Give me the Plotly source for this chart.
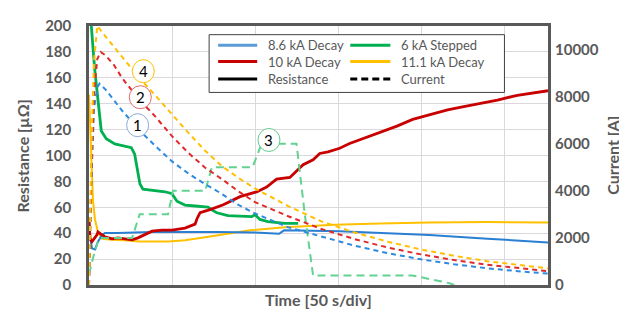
import plotly.graph_objects as go

# ---------------- data (time in s, resistance in µΩ, current in A) ----------------
t_86_cur = [0, 1.5, 3, 5, 6.4, 10, 15, 20, 30, 40, 50, 60, 70, 80, 90, 100, 120, 140, 160, 180, 200, 220, 240, 260, 276.5]
i_86_cur = [0, 4500, 7500, 8400, 8550, 8300, 7850, 7400, 6600, 5900, 5250, 4730, 4280, 3870, 3400, 3040, 2450, 2060, 1670, 1350, 1090, 880, 710, 575, 485]

t_10_cur = [0, 1.5, 3, 5, 7, 10, 15, 20, 30, 40, 50, 60, 70, 80, 90, 100, 120, 140, 160, 180, 200, 220, 240, 260, 276.5]
i_10_cur = [0, 5000, 8200, 9600, 9900, 9750, 9350, 8780, 7900, 7150, 6320, 5600, 4980, 4500, 3980, 3520, 2920, 2380, 1950, 1590, 1300, 1060, 860, 700, 590]

t_111_cur = [0, 1.5, 3, 5, 10, 20, 30, 40, 50, 60, 70, 80, 90, 100, 120, 140, 160, 180, 200, 220, 240, 260, 276.5]
i_111_cur = [0, 6000, 9500, 11000, 10550, 9680, 8820, 8050, 7250, 6450, 5700, 5050, 4550, 4100, 3350, 2700, 2230, 1840, 1510, 1240, 1010, 830, 705]

t_6_cur = [0, 2.4, 5.4, 7, 26, 30.5, 47.6, 50.6, 70, 74, 98.5, 104, 125, 130, 135, 195, 217, 220]
i_6_cur = [450, 1150, 1850, 2000, 2000, 3000, 3000, 4000, 4000, 5000, 5000, 6000, 6000, 3000, 400, 400, 80, 0]

t_86_res = [0, 0.6, 1.8, 3.6, 5.4, 7.8, 9.6, 17, 38, 78, 100, 114.5, 117.5, 151, 170, 205, 240, 265, 276.5]
r_86_res = [42, 36, 28.3, 27.5, 33.5, 38.7, 40.1, 40.1, 40.9, 40.9, 40.5, 39.6, 42.2, 41.6, 40.5, 38.7, 35.7, 33.5, 32.9]

t_10_res = [0, 0.6, 1.8, 4.8, 5.4, 7.8, 9.6, 13.9, 17.5, 21.7, 25.9, 29.5, 33.7, 38, 44, 50, 57.8, 63.9, 65,
            66.9, 72.9, 80.9, 91, 101, 107, 113, 121, 125, 129, 135, 139, 144, 151, 157, 175, 185.5, 195,
            205, 216, 225, 246, 258, 270, 276.5]
r_10_res = [52, 35.7, 33.5, 38.7, 40.9, 38.7, 37.2, 35.7, 36.4, 35.7, 34.9, 36.4, 38.7, 41.6, 42.4, 42.4, 43.9, 47, 51,
            55.8, 58.2, 62, 68.2, 71.9, 75.6, 81.8, 83, 88, 92.9, 96.7, 101.6, 102.8, 105.6, 109.3, 117.5, 122.7, 127.9,
            131.6, 135.3, 137.5, 142.8, 146.5, 148.7, 150]

t_6_res = [0, 1.4, 3.4, 5.4, 7.4, 10.4, 15.5, 25.5, 27.5, 30.7, 32.5, 45.8, 50, 53, 57.8, 64, 71.7, 74, 77, 83.7,
           98, 100, 103, 107.8, 118, 126]
r_6_res = [260, 200, 167, 142, 119, 113, 109, 106, 101, 78, 74, 72, 70.5, 64.7, 61.7, 61, 60.2, 58, 55.8, 53.5,
           52.8, 54.3, 50.6, 49, 47.6, 47.6]

t_111_res = [0, 0.6, 1.8, 2.4, 3.6, 5.4, 7.8, 13.9, 21.7, 30, 48, 57.8, 68, 98, 118, 138, 148, 175, 205, 240, 276.5]
r_111_res = [147, 122.7, 87.7, 65.4, 50.6, 40.9, 35.7, 34.9, 34.5, 33.5, 33.5, 34.5, 36.5, 42.4, 44.6, 46.1, 46.5, 47.5, 48.3, 48.6, 48.3]

legend_labels = ["8.6 kA Decay", "6 kA Stepped", "10 kA Decay", "11.1 kA Decay", "Resistance", "Current"]
circle_labels = ["1", "2", "3", "4"]
circle_t = [29.3, 30.9, 108.4, 32.7]
circle_r = [123.4, 145.0, 112.0, 165.1]

# ---------------- styling ----------------
BLUE = "#2b7fd3"
BLUE_D = "#2e8be0"
RED = "#c80000"
RED_D = "#de2a2a"
GREEN = "#00b050"
GREEN_D = "#62d291"
YELLOW = "#ffc000"
GRAY = "#595959"
FONT = "Lato"

fig = go.Figure()

# resistance (left axis)
fig.add_trace(go.Scatter(x=t_111_res, y=r_111_res, mode="lines", line=dict(color=YELLOW, width=2), showlegend=False))
fig.add_trace(go.Scatter(x=t_86_res, y=r_86_res, mode="lines", line=dict(color=BLUE, width=2), showlegend=False))
fig.add_trace(go.Scatter(x=t_6_res, y=r_6_res, mode="lines", line=dict(color=GREEN, width=2.8), showlegend=False))
fig.add_trace(go.Scatter(x=t_10_res, y=r_10_res, mode="lines", line=dict(color=RED, width=2.8), showlegend=False))

# current (right axis)
fig.add_trace(go.Scatter(x=t_6_cur, y=i_6_cur, yaxis="y2", mode="lines",
                         line=dict(color=GREEN_D, width=2, dash="8px,5px"), showlegend=False))
fig.add_trace(go.Scatter(x=t_86_cur, y=i_86_cur, yaxis="y2", mode="lines",
                         line=dict(color=BLUE_D, width=2, dash="5px,4px"), showlegend=False))
fig.add_trace(go.Scatter(x=t_10_cur, y=i_10_cur, yaxis="y2", mode="lines",
                         line=dict(color=RED_D, width=2, dash="5px,4px"), showlegend=False))
fig.add_trace(go.Scatter(x=t_111_cur, y=i_111_cur, yaxis="y2", mode="lines",
                         line=dict(color=YELLOW, width=2, dash="5px,4px"), showlegend=False))

shapes = []
annotations = []

# numbered circles
circle_cols = ["#8eaad8", "#e06b6b", "#63cc8c", "#ffc000"]
for lab, ct, cr, cc in zip(circle_labels, circle_t, circle_r, circle_cols):
    shapes.append(dict(type="circle", xref="x", yref="y", xsizemode="pixel", ysizemode="pixel",
                       xanchor=ct, yanchor=cr, x0=-11, x1=11, y0=-11.5, y1=11.5,
                       line=dict(color=cc, width=1), fillcolor="white", layer="above"))
    annotations.append(dict(x=ct, y=cr, xref="x", yref="y", text=lab, showarrow=False,
                            font=dict(family=FONT, size=15, color="black"), xanchor="center", yanchor="middle"))

# legend (drawn manually)
shapes.append(dict(type="rect", xref="paper", yref="paper", x0=0.2617, x1=0.9051, y0=0.7435, y1=0.9665,
                   line=dict(color="#404040", width=1), fillcolor="white", layer="above"))
leg_cols = [("#5b9bd5", "solid"), (GREEN, "solid"), (RED, "solid"), (YELLOW, "solid"), ("black", "solid"), ("black", "7px,4px")]
col_x = [(0.2814, 0.3664, 0.386), (0.5692, 0.6565, 0.6761)]
row_y = [0.9257, 0.8625, 0.7955]
for k, lab in enumerate(legend_labels):
    r, c = divmod(k, 2)
    x0, x1, xt = col_x[c]
    yy = row_y[r]
    colr, dsh = leg_cols[k]
    shapes.append(dict(type="line", xref="paper", yref="paper", x0=x0, x1=x1, y0=yy, y1=yy,
                       line=dict(color=colr, width=3, dash=dsh), layer="above"))
    annotations.append(dict(x=xt, y=yy, xref="paper", yref="paper", text=lab, showarrow=False,
                            xanchor="left", yanchor="middle", font=dict(family=FONT, size=13, color=GRAY)))

# axis titles
annotations.append(dict(x=-0.1439, y=0.5, xref="paper", yref="paper", text="Resistance [µΩ]", textangle=-90,
                        showarrow=False, xanchor="center", yanchor="middle",
                        font=dict(family=FONT, size=16, color=GRAY, weight="bold")))
annotations.append(dict(x=1.140, y=0.5, xref="paper", yref="paper", text="Current [A]", textangle=-90,
                        showarrow=False, xanchor="center", yanchor="middle",
                        font=dict(family=FONT, size=16, color=GRAY, weight="bold")))
annotations.append(dict(x=0.5, y=-0.0558, xref="paper", yref="paper", text="Time [50 s/div]",
                        showarrow=False, xanchor="center", yanchor="middle",
                        font=dict(family=FONT, size=16, color=GRAY, weight="bold")))

tickfont = dict(family=FONT, size=15, color=GRAY, weight="bold")
# page body has an 8 px margin, so the figure is sized/offset to compensate
fig.update_layout(
    width=619, height=303,
    margin=dict(l=81, r=79, t=8, b=26),
    paper_bgcolor="white", plot_bgcolor="white",
    showlegend=False,
    shapes=shapes, annotations=annotations,
    xaxis=dict(range=[0, 276.5], tick0=0, dtick=50, showticklabels=False, ticks="",
               showgrid=True, gridcolor="#dcd7dc", gridwidth=1, zeroline=False,
               showline=True, linecolor=GRAY, linewidth=2.5, mirror=True),
    yaxis=dict(range=[0, 200], tick0=0, dtick=20, ticks="", tickfont=tickfont, ticklabelstandoff=12,
               showgrid=True, gridcolor="#dcd7dc", gridwidth=1, zeroline=False,
               showline=True, linecolor=GRAY, linewidth=2.5, mirror=True),
    yaxis2=dict(range=[0, 11000], tick0=0, dtick=2000, ticks="", tickfont=tickfont, ticklabelstandoff=6,
                tickformat="d",
                overlaying="y", side="right", showgrid=False, zeroline=False, showline=False),
)

fig.write_html("out.html")
